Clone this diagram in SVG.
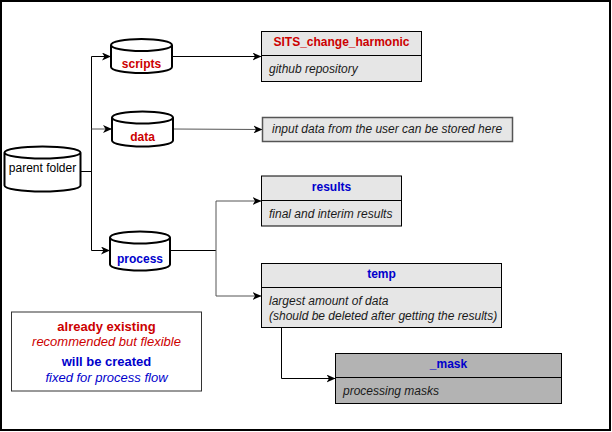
<svg xmlns="http://www.w3.org/2000/svg" width="612" height="432" viewBox="0 0 612 432">
<defs>
<style>
.cyl{fill:#fff;stroke:#000;stroke-width:2}
.box{fill:#e6e6e6;stroke:#000;stroke-width:1}
.dark{fill:#b3b3b3;stroke:#000;stroke-width:1}
.ln{fill:none;stroke:#000;stroke-width:1}
.gl{fill:none;stroke:#555;stroke-width:1}
text{font-family:"Liberation Sans",Arial,sans-serif;font-size:12px}
.b{font-weight:bold}
.i{font-style:italic;fill:#1a1a1a}
.red{fill:#cc0000}
.blue{fill:#0000cc}
.mid{text-anchor:middle}
.lg{font-size:13px}
</style>
<marker id="ar" markerWidth="10" markerHeight="8" refX="9" refY="4" orient="auto" markerUnits="userSpaceOnUse">
<path d="M0,0 L9,4 L0,8 L2.5,4 Z" fill="#000"/>
</marker>
</defs>
<rect x="1" y="1" width="609" height="429" fill="#fff" stroke="#000" stroke-width="2"/>
<g id="connectors">
<path class="ln" d="M80.5,171.5 H91.5 M91.5,56.5 V250.5"/>
<path class="ln" d="M91.5,56.5 H111" marker-end="url(#ar)"/>
<path class="gl" d="M91.5,129 H112" marker-end="url(#ar)"/>
<path class="ln" d="M91.5,250.5 H110" marker-end="url(#ar)"/>
<path class="ln" d="M172,56.5 H261.5" marker-end="url(#ar)"/>
<path class="gl" d="M173,129 L262.5,129.5" marker-end="url(#ar)"/>
<path class="ln" d="M171,250.5 H216"/>
<path class="gl" d="M216,201 V296"/>
<path class="gl" d="M216,201 H261.5" marker-end="url(#ar)"/>
<path class="gl" d="M216,296 H261.5" marker-end="url(#ar)"/>
<path class="ln" d="M281.5,328 V378.5 H335.5" marker-end="url(#ar)"/>
</g>
<g id="parent">
<path class="cyl" d="M4.5,152.5 A38,6 0 0 1 80.5,152.5 L80.5,185.5 A38,6 0 0 1 4.5,185.5 Z M4.5,152.5 A38,6 0 0 0 80.5,152.5"/>
<text class="mid" x="42.5" y="172">parent folder</text>
</g>
<g id="scripts">
<path class="cyl" d="M111,45 A30.5,6 0 0 1 172,45 L172,67 A30.5,6 0 0 1 111,67 Z M111,45 A30.5,6 0 0 0 172,45"/>
<text class="mid b red" x="141.5" y="68">scripts</text>
</g>
<g id="data">
<path class="cyl" d="M112,117.5 A30.5,6 0 0 1 173,117.5 L173,140.5 A30.5,6 0 0 1 112,140.5 Z M112,117.5 A30.5,6 0 0 0 173,117.5"/>
<text class="mid b red" x="142.5" y="141">data</text>
</g>
<g id="process">
<path class="cyl" d="M110,237.5 A30,6 0 0 1 170,237.5 L170,264.5 A30,6 0 0 1 110,264.5 Z M110,237.5 A30,6 0 0 0 170,237.5"/>
<text class="mid b blue" x="140" y="263">process</text>
</g>
<g id="sits">
<rect class="box" x="261.5" y="31.5" width="160" height="50"/>
<line class="ln" x1="261.5" y1="55.5" x2="421.5" y2="55.5"/>
<text class="mid b red" x="341.5" y="46">SITS_change_harmonic</text>
<text class="i" x="269" y="73">github repository</text>
</g>
<g id="input">
<rect x="262.5" y="117.5" width="250" height="24" fill="#e6e6e6" stroke="#555" stroke-width="1.5"/>
<text class="i" x="272" y="133">input data from the user can be stored here</text>
</g>
<g id="results">
<rect class="box" x="261.5" y="176" width="140" height="50" stroke="#444"/>
<line x1="261.5" y1="200.5" x2="401.5" y2="200.5" stroke="#000"/>
<text class="mid b blue" x="331.5" y="191">results</text>
<text class="i" x="269" y="218">final and interim results</text>
</g>
<g id="temp">
<rect class="box" x="261.5" y="263.5" width="240" height="64"/>
<line class="ln" x1="261.5" y1="287.5" x2="501.5" y2="287.5"/>
<text class="mid b blue" x="381.5" y="278">temp</text>
<text class="i" x="269" y="305">largest amount of data</text>
<text class="i" x="269" y="320">(should be deleted after getting the results)</text>
</g>
<g id="mask">
<rect class="dark" x="335.5" y="353.5" width="226" height="50"/>
<line class="ln" x1="335.5" y1="377.5" x2="561.5" y2="377.5"/>
<text class="mid b blue" x="448.5" y="368">_mask</text>
<text class="i" x="343" y="395">processing masks</text>
</g>
<g id="legend">
<rect x="11.5" y="312" width="190" height="79" fill="#fff" stroke="#333" stroke-width="1"/>
<text class="mid b red lg" x="106.5" y="330.5">already existing</text>
<text class="mid red lg" x="106.5" y="346" font-style="italic">recommended but flexible</text>
<text class="mid b blue lg" x="106.5" y="366">will be created</text>
<text class="mid blue lg" x="106.5" y="382" font-style="italic">fixed for process flow</text>
</g>
</svg>
